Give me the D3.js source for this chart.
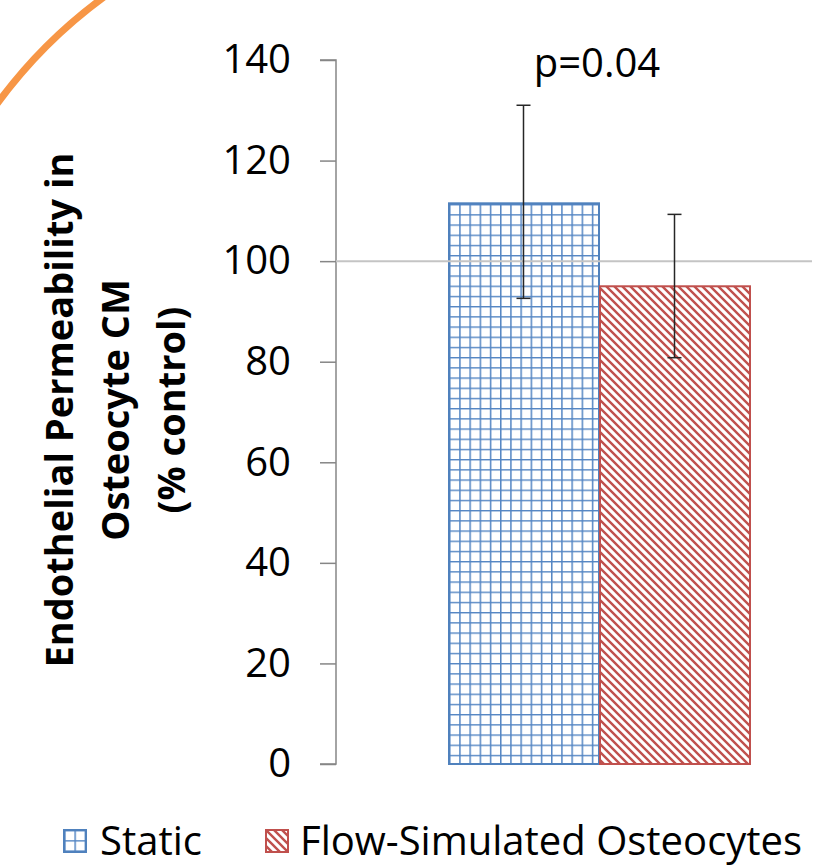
<!doctype html>
<html>

<head>
    <meta charset="UTF-8">
    <title>Endothelial Permeability</title>
    <script src="https://d3js.org/d3.v7.min.js"></script>
    <style>
        body { margin: 0; background: #fff; }
        text { font-family: "Open Sans", sans-serif; fill: #000; }
    </style>
</head>

<body>
    <script>
        var width = 828;
        var height = 867;

        // data
        var seriesNames = ["Static", "Flow-Simulated Osteocytes"];
        var means = [111.5, 95];
        var errLow = [92.6, 80.8];
        var errHigh = [131, 109.3];
        var yTicks = [0, 20, 40, 60, 80, 100, 120, 140];
        var titleLines = ["Endothelial Permeability in", "Osteocyte CM", "(% control)"];
        var pLabel = "p=0.04";
        var refValue = 100;

        var blue = "#4f81bd";
        var red = "#c0504d";

        var svg = d3.select("body").append("svg")
            .attr("width", width)
            .attr("height", height);

        var defs = svg.append("defs");

        // small grid pattern for Static
        var grid = defs.append("pattern")
            .attr("id", "grid")
            .attr("patternUnits", "userSpaceOnUse")
            .attr("x", 449).attr("y", 0)
            .attr("width", 10.2).attr("height", 10.2);
        grid.append("rect").attr("width", 10.2).attr("height", 10.2).attr("fill", "#fff");
        grid.append("path")
            .attr("d", "M0.7,0V10.2M0,0.7H10.2")
            .attr("stroke", "#5385c3")
            .attr("stroke-width", 1.6);

        // diagonal stripes for Flow
        var diag = defs.append("pattern")
            .attr("id", "diag")
            .attr("patternUnits", "userSpaceOnUse")
            .attr("width", 8).attr("height", 8);
        diag.append("rect").attr("width", 8).attr("height", 8).attr("fill", "#fff");
        diag.append("path")
            .attr("d", "M0,0L8,8M-2,6L2,10M6,-2L10,2")
            .attr("stroke", red)
            .attr("stroke-width", 2.4);

        var fills = ["url(#grid)", "url(#diag)"];
        var strokes = [blue, red];

        // orange decorative arc (top-left corner only)
        var arcPath = d3.path();
        arcPath.arc(400, 400, 500, -148 * Math.PI / 180, -122 * Math.PI / 180);
        svg.append("path")
            .attr("d", arcPath.toString())
            .attr("fill", "none")
            .attr("stroke", "#f79646")
            .attr("stroke-width", 7);

        var y = d3.scaleLinear().domain([0, 140]).range([764, 60]);
        var x = d3.scaleBand().domain(seriesNames).range([448, 750]);

        // y axis
        var yAxis = d3.axisLeft(y)
            .tickValues(yTicks)
            .tickSize(16)
            .tickPadding(29);
        var gy = svg.append("g")
            .attr("transform", "translate(336,0)")
            .call(yAxis);
        gy.select(".domain").attr("stroke", "#868686").attr("stroke-width", 1.5).attr("d", "M-16,60H0V764H-16");
        gy.selectAll(".tick line").attr("stroke", "#868686").attr("stroke-width", 1.5);
        gy.selectAll(".tick text")
            .attr("font-size", 40)
            .attr("font-family", "Open Sans")
            .attr("fill", "#000");

        // bars
        svg.selectAll(".bar").data(seriesNames).enter().append("rect")
            .attr("class", "bar")
            .attr("x", function (d) { return x(d) + 1; })
            .attr("width", x.bandwidth() - 1)
            .attr("y", function (d, i) { return y(means[i]); })
            .attr("height", function (d, i) { return y(0) - y(means[i]); })
            .attr("fill", function (d, i) { return fills[i]; })
            .attr("stroke", function (d, i) { return strokes[i]; })
            .attr("stroke-width", 2);

        // reference line at 100
        svg.append("line")
            .attr("x1", 336).attr("x2", 812)
            .attr("y1", y(refValue)).attr("y2", y(refValue))
            .attr("stroke", "#c4c4c4")
            .attr("stroke-width", 2);

        // error bars
        var eb = svg.selectAll(".err").data(seriesNames).enter().append("g").attr("class", "err")
            .attr("stroke", "#262626").attr("stroke-width", 1.5);
        eb.append("line")
            .attr("x1", function (d) { return x(d) + x.bandwidth() / 2; })
            .attr("x2", function (d) { return x(d) + x.bandwidth() / 2; })
            .attr("y1", function (d, i) { return y(errLow[i]); })
            .attr("y2", function (d, i) { return y(errHigh[i]); });
        [errLow, errHigh].forEach(function (arr) {
            eb.append("line")
                .attr("x1", function (d) { return x(d) + x.bandwidth() / 2 - 7; })
                .attr("x2", function (d) { return x(d) + x.bandwidth() / 2 + 7; })
                .attr("y1", function (d, i) { return y(arr[i]); })
                .attr("y2", function (d, i) { return y(arr[i]); });
        });

        // p value
        svg.append("text")
            .attr("x", 597).attr("y", 77)
            .attr("text-anchor", "middle")
            .attr("font-size", 40)
            .text(pLabel);

        // y title
        var title = svg.append("text")
            .attr("transform", "translate(0,410) rotate(-90)")
            .attr("text-anchor", "middle")
            .attr("font-size", 38)
            .attr("font-weight", "bold");
        title.selectAll("tspan").data(titleLines).enter().append("tspan")
            .attr("x", 0)
            .attr("y", function (d, i) { return 73 + i * 56; })
            .text(function (d) { return d; });

        // legend
        var legX = [64, 266];
        var leg = svg.selectAll(".leg").data(seriesNames).enter().append("g")
            .attr("class", "leg")
            .attr("transform", function (d, i) { return "translate(" + legX[i] + ",830)"; });
        leg.append("rect")
            .attr("width", 22).attr("height", 22)
            .attr("fill", function (d, i) { return fills[i]; })
            .attr("stroke", function (d, i) { return strokes[i]; })
            .attr("stroke-width", 2);
        leg.append("text")
            .attr("x", function (d, i) { return i === 0 ? 36 : 34; })
            .attr("y", 25)
            .attr("font-size", 40)
            .text(function (d) { return d; });
    </script>
</body>

</html>
